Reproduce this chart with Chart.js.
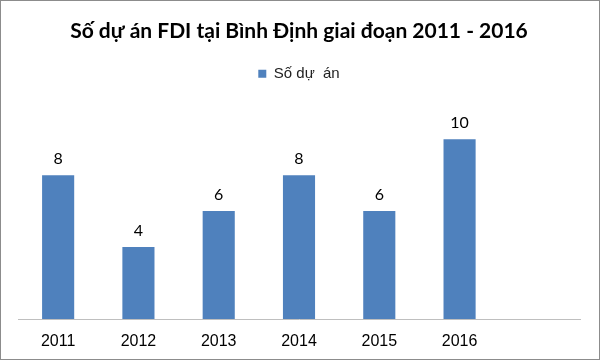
<!DOCTYPE html>
<html>
<head>
<meta charset="utf-8">
<script src="https://cdn.jsdelivr.net/npm/chart.js@4.4.0/dist/chart.umd.min.js"></script>
<style>
  html, body { margin: 0; padding: 0; background: #fff; }
  #wrap { width: 600px; height: 360px; box-sizing: border-box; border: 1px solid #8c8c8c; position: relative; }
  canvas { display: block; }
</style>
</head>
<body>
<div id="wrap"><canvas id="fdiChart" width="598" height="358"></canvas></div>
<script>
'use strict';

// ---- data ----
const years = ['2011', '2012', '2013', '2014', '2015', '2016', ''];
const projects = [8, 4, 6, 8, 6, 10, null];
const seriesName = 'Số dự  án';
const chartTitle = 'Số dự án FDI tại Bình Định giai đoạn 2011 - 2016';

// value labels above each bar
const barValueLabels = {
  id: 'barValueLabels',
  afterDatasetsDraw(chart) {
    const ctx = chart.ctx;
    const meta = chart.getDatasetMeta(0);
    ctx.save();
    ctx.font = '16px Lato, "Open Sans", sans-serif';
    ctx.fillStyle = '#000';
    ctx.textAlign = 'center';
    ctx.textBaseline = 'bottom';
    meta.data.forEach((bar, i) => {
      const v = chart.data.datasets[0].data[i];
      if (v == null) return;
      ctx.fillText(String(v), bar.x, bar.y - 8);
    });
    ctx.restore();
  }
};

// extra gap under the legend
const legendGap = {
  id: 'legendGap',
  beforeInit(chart) {
    const origFit = chart.legend.fit;
    chart.legend.fit = function () {
      origFit.bind(chart.legend)();
      this.height += 12;
    };
  }
};

new Chart(document.getElementById('fdiChart'), {
  type: 'bar',
  data: {
    labels: years,
    datasets: [{
      label: seriesName,
      data: projects,
      backgroundColor: '#4F81BD',
      borderWidth: 0,
      categoryPercentage: 1,
      barPercentage: 0.4,
    }],
  },
  options: {
    responsive: false,
    animation: false,
    layout: { padding: { top: 14, left: 17, right: 19, bottom: 6 } },
    plugins: {
      title: {
        display: true,
        text: chartTitle,
        color: '#000',
        font: { size: 21, weight: 'bold', family: 'Lato, "Open Sans", sans-serif' },
        padding: { top: 4, bottom: 12 },
      },
      legend: {
        position: 'top',
        labels: {
          color: '#222',
          font: { size: 15, family: '"Liberation Sans", Arial, sans-serif' },
          boxWidth: 8,
          boxHeight: 8,
          padding: 10,
        },
      },
      tooltip: { enabled: false },
    },
    scales: {
      y: { display: false, min: 0, max: 12 },
      x: {
        grid: { display: false },
        border: { color: '#bfbfbf', width: 1 },
        ticks: {
          color: '#000',
          padding: 5,
          font: { size: 16, family: '"Liberation Sans", Arial, sans-serif' },
        },
        afterFit(scale) { scale.height = 34; },
      },
    },
  },
  plugins: [barValueLabels, legendGap],
});
</script>
</body>
</html>
